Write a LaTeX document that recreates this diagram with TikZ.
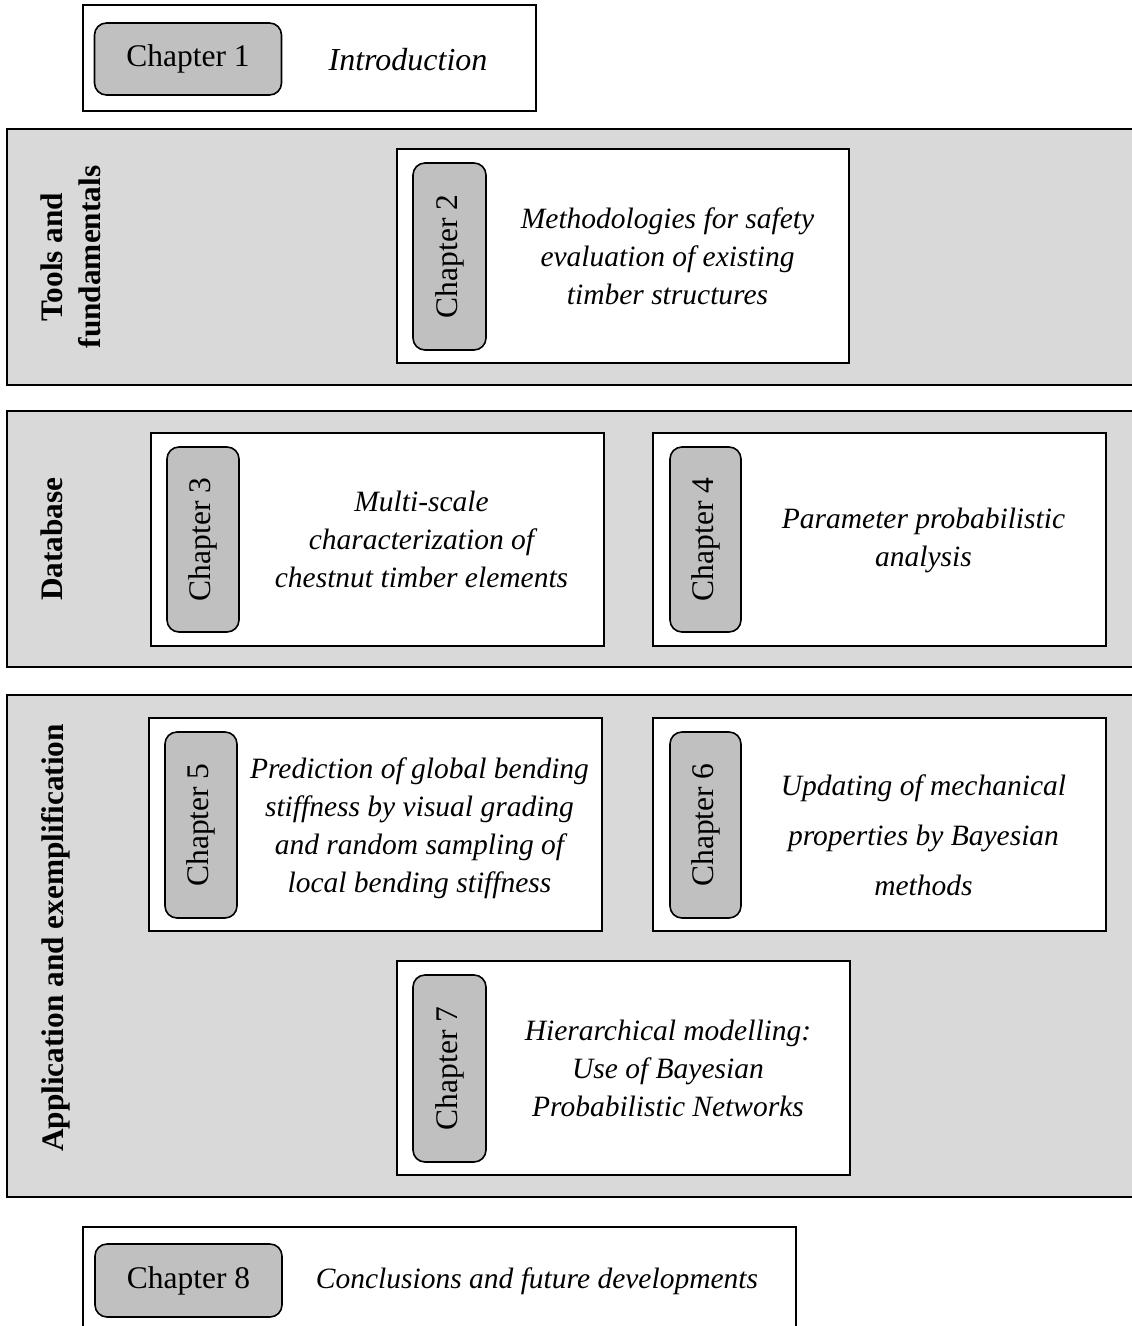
\documentclass[tikz,border=0pt]{standalone}
\usepackage{fontspec}
\setmainfont{Liberation Serif}
\definecolor{bandgray}{HTML}{D9D9D9}
\definecolor{tabgray}{HTML}{C0C0C0}

\begin{document}
\begin{tikzpicture}[x=1pt,y=-1pt,
  band/.style={draw=black, line width=2.6pt, fill=bandgray},
  card/.style={draw=black, line width=2pt, fill=white, inner sep=0pt},
  tab/.style={draw=black, line width=1.6pt, fill=tabgray, rounded corners=12pt,
    inner sep=0pt, font=\fontsize{31.5}{38}\selectfont},
  desc/.style={align=center, inner sep=0pt, font=\fontsize{29.5}{38}\selectfont\itshape},
  grouplabel/.style={rotate=90, anchor=north, align=center, inner sep=0pt,
    font=\fontsize{31.3}{38}\selectfont\bfseries}
]
\useasboundingbox (0,0) rectangle (1132,1326);
\clip (0,0) rectangle (1132,1326);

% Chapter 1: introduction
\node[card, minimum width=453pt, minimum height=106pt] (c1) at (309.5,58) {};
\node[tab, minimum width=187pt, minimum height=72pt] (t1) at (188,59) {Chapter 1};
\node[desc, font=\fontsize{32}{38}\selectfont\itshape] (d1) at (408,60) {Introduction};

% Band: tools and fundamentals
\path[band] (7,129) rectangle (1160,385);
\node[grouplabel] (g1) at (41,257) {Tools and\\fundamentals};
\node[card, minimum width=452pt, minimum height=214pt] (c2) at (623,256) {};
\node[tab, rotate=90, minimum width=187pt, minimum height=73pt] (t2) at (449.5,256.5) {Chapter 2};
\node[desc] (d2) at (667.5,256) {Methodologies for safety\\evaluation of existing\\timber structures};

% Band: database
\path[band] (7,411) rectangle (1160,667);
\node[grouplabel] (g2) at (41,539) {Database};
\node[card, minimum width=453pt, minimum height=213pt] (c3) at (377.5,539.5) {};
\node[tab, rotate=90, minimum width=185pt, minimum height=72pt] (t3) at (203,539.5) {Chapter 3};
\node[desc] (d3) at (421.5,539) {Multi-scale\\characterization of\\chestnut timber elements};
\node[card, minimum width=453pt, minimum height=213pt] (c4) at (879.5,539.5) {};
\node[tab, rotate=90, minimum width=185pt, minimum height=71pt] (t4) at (705.5,539.5) {Chapter 4};
\node[desc] (d4) at (923.5,540) {Parameter probabilistic\\analysis};

% Band: application and exemplification
\path[band] (7,695) rectangle (1160,1197);
\node[grouplabel] (g3) at (41,938) {Application and exemplification};
\node[card, minimum width=453pt, minimum height=213pt] (c5) at (375.5,824.5) {};
\node[tab, rotate=90, minimum width=186pt, minimum height=72pt] (t5) at (201,825) {Chapter 5};
\node[desc] (d5) at (419.5,828) {Prediction of global bending\\stiffness by visual grading\\and random sampling of\\local bending stiffness};
\node[card, minimum width=453pt, minimum height=213pt] (c6) at (879.5,824.5) {};
\node[tab, rotate=90, minimum width=186pt, minimum height=71pt] (t6) at (705.5,825) {Chapter 6};
\node[desc, font=\fontsize{29.5}{50}\selectfont\itshape] (d6) at (923.5,835) {Updating of mechanical\\properties by Bayesian\\methods};
\node[card, minimum width=453pt, minimum height=214pt] (c7) at (623.5,1068) {};
\node[tab, rotate=90, minimum width=187pt, minimum height=73pt] (t7) at (449.5,1068.5) {Chapter 7};
\node[desc] (d7) at (668,1068) {Hierarchical modelling:\\Use of Bayesian\\Probabilistic Networks};

% Chapter 8: conclusions
\path[card] (83,1227) rectangle (796,1345);
\node[tab, minimum width=187pt, minimum height=73pt] (t8) at (188.5,1280.5) {Chapter 8};
\node[desc] (d8) at (537,1281) {Conclusions and future developments};
\end{tikzpicture}
\end{document}
